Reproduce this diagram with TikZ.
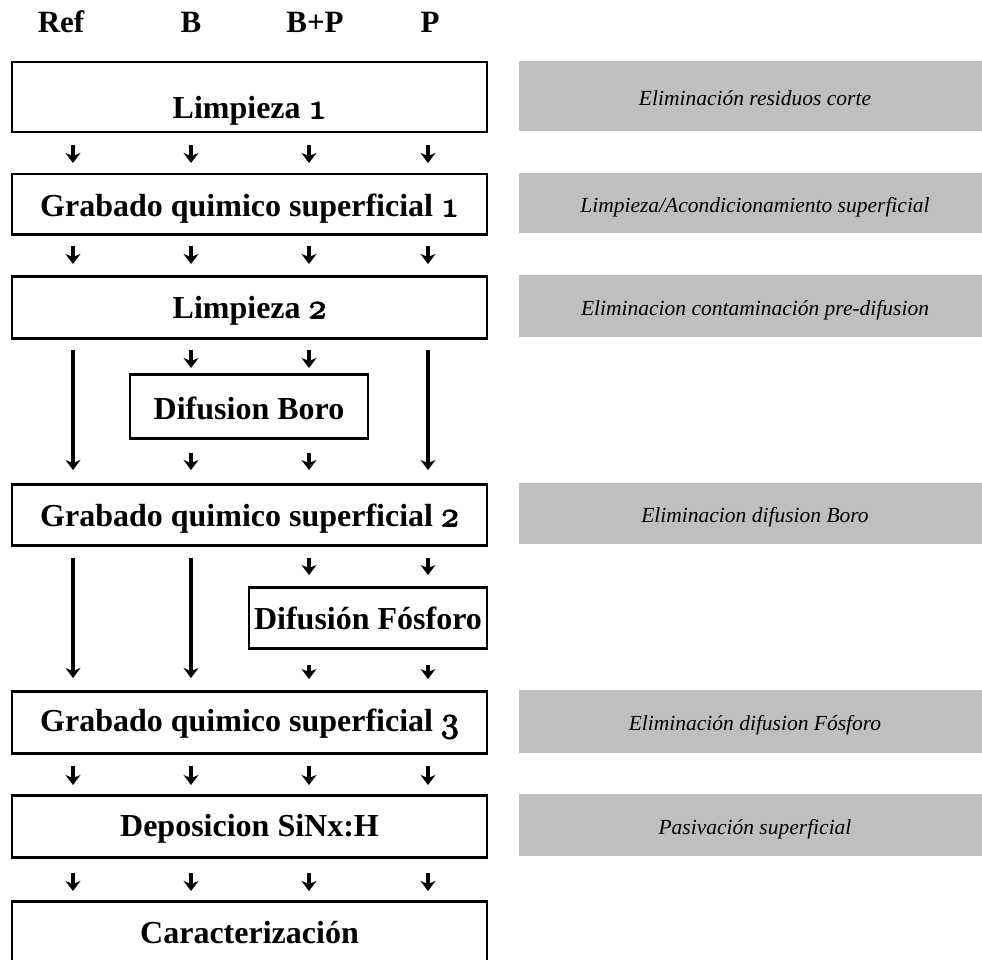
\documentclass[tikz,border=0pt]{standalone}
\usepackage{fontspec}
\setmainfont{Liberation Serif}
\usetikzlibrary{arrows.meta}
\definecolor{notegray}{RGB}{191,191,191}
% old-style figures taken from the Latin Modern bold math italic font,
% enlarged and outlined so they match the bold text weight
\newcommand{\osnum}[1]{\scalebox{1.45}{\usefont{OML}{lmm}{b}{it}%
  \special{pdf:literal direct 2 Tr 0.8 w}#1\special{pdf:literal direct 0 Tr}}}
\tikzset{
  hd/.style 2 args={text height=#1pt, text depth=#2pt},
  mainbox/.style={draw, line width=2.5pt, inner sep=0pt, minimum width=475pt,
    anchor=north, font=\bfseries\fontsize{32}{36}\selectfont},
  subbox/.style={mainbox, minimum width=238pt},
  note/.style={fill=notegray, inner sep=0pt, minimum width=472pt, anchor=north,
    font=\itshape\fontsize{21.5}{24}\selectfont},
  head/.style={anchor=base, inner sep=0pt, font=\bfseries\fontsize{31}{34}\selectfont},
  arr/.style={-{Stealth[length=10pt,width=15pt,inset=3pt]}, line width=3.4pt},
}
\begin{document}
\begin{tikzpicture}[x=1pt, y=-1pt]
\useasboundingbox (0,0) rectangle (982,960);
\clip (0,0) rectangle (982,960);

% column headings
\node[head] (hRef) at (61,33) {Ref};
\node[head] (hB) at (191,33) {B};
\node[head] (hBP) at (315,33) {B+P};
\node[head] (hP) at (430,33) {P};

% arrow columns
\coordinate (cR) at (73,0);
\coordinate (cB) at (191,0);
\coordinate (cBP) at (309,0);
\coordinate (cP) at (428,0);

% process steps
\node[mainbox, hd={56}{14}] (lim1) at (249.5,61) {Limpieza \osnum{1}};
\node[mainbox, hd={42}{18}] (gr1) at (249.5,173) {Grabado quimico superficial \osnum{1}};
\node[mainbox, hd={42}{20}] (lim2) at (249.5,275) {Limpieza \osnum{2}};
\node[subbox, hd={45}{19}] (difB) at (249,373) {Difusion Boro};
\node[mainbox, hd={42}{19}] (gr2) at (249.5,483) {Grabado quimico superficial \osnum{2}};
\node[subbox, hd={42}{19}] (difF) at (368,586) {Difusión Fósforo};
\node[mainbox, hd={40}{22}] (gr3) at (249.5,690) {Grabado quimico superficial \osnum{3}};
\node[mainbox, hd={41}{21}] (dep) at (249.5,794) {Deposicion SiNx:H};
\node[mainbox, hd={42}{30}] (car) at (249.5,900) {Caracterización};

% purpose of each step
\node[note, hd={44}{26}] (n1) at (755,61) {Eliminación residuos corte};
\node[note, hd={39}{21}] (n2) at (755,173) {Limpieza/Acondicionamiento superficial};
\node[note, hd={40}{22}] (n3) at (755,275) {Eliminacion contaminación pre-difusion};
\node[note, hd={39.5}{21.5}] (n4) at (755,483) {Eliminacion difusion Boro};
\node[note, hd={40.5}{22.5}] (n5) at (755,690) {Eliminación difusion Fósforo};
\node[note, hd={40}{22}] (n6) at (755,794) {Pasivación superficial};

% flow arrows
\foreach \c in {cR,cB,cBP,cP} {
  \draw[arr, shorten <=12pt, shorten >=10pt] (\c |- lim1.south) -- (\c |- gr1.north);
  \draw[arr, shorten <=10pt, shorten >=11pt] (\c |- gr1.south) -- (\c |- lim2.north);
  \draw[arr, shorten <=11pt, shorten >=9pt] (\c |- gr3.south) -- (\c |- dep.north);
  \draw[arr, shorten <=14pt, shorten >=9pt] (\c |- dep.south) -- (\c |- car.north);
}
\foreach \c in {cR,cP}
  \draw[arr, shorten <=10pt, shorten >=13pt] (\c |- lim2.south) -- (\c |- gr2.north);
\foreach \c in {cB,cBP} {
  \draw[arr, shorten <=10pt, shorten >=5pt] (\c |- lim2.south) -- (\c |- difB.north);
  \draw[arr, shorten <=13pt, shorten >=13pt] (\c |- difB.south) -- (\c |- gr2.north);
}
\foreach \c in {cR,cB}
  \draw[arr, shorten <=11pt, shorten >=12pt] (\c |- gr2.south) -- (\c |- gr3.north);
\foreach \c in {cBP,cP} {
  \draw[arr, shorten <=11pt, shorten >=11pt] (\c |- gr2.south) -- (\c |- difF.north);
  \draw[arr, shorten <=15pt, shorten >=11pt] (\c |- difF.south) -- (\c |- gr3.north);
}
\end{tikzpicture}
\end{document}
